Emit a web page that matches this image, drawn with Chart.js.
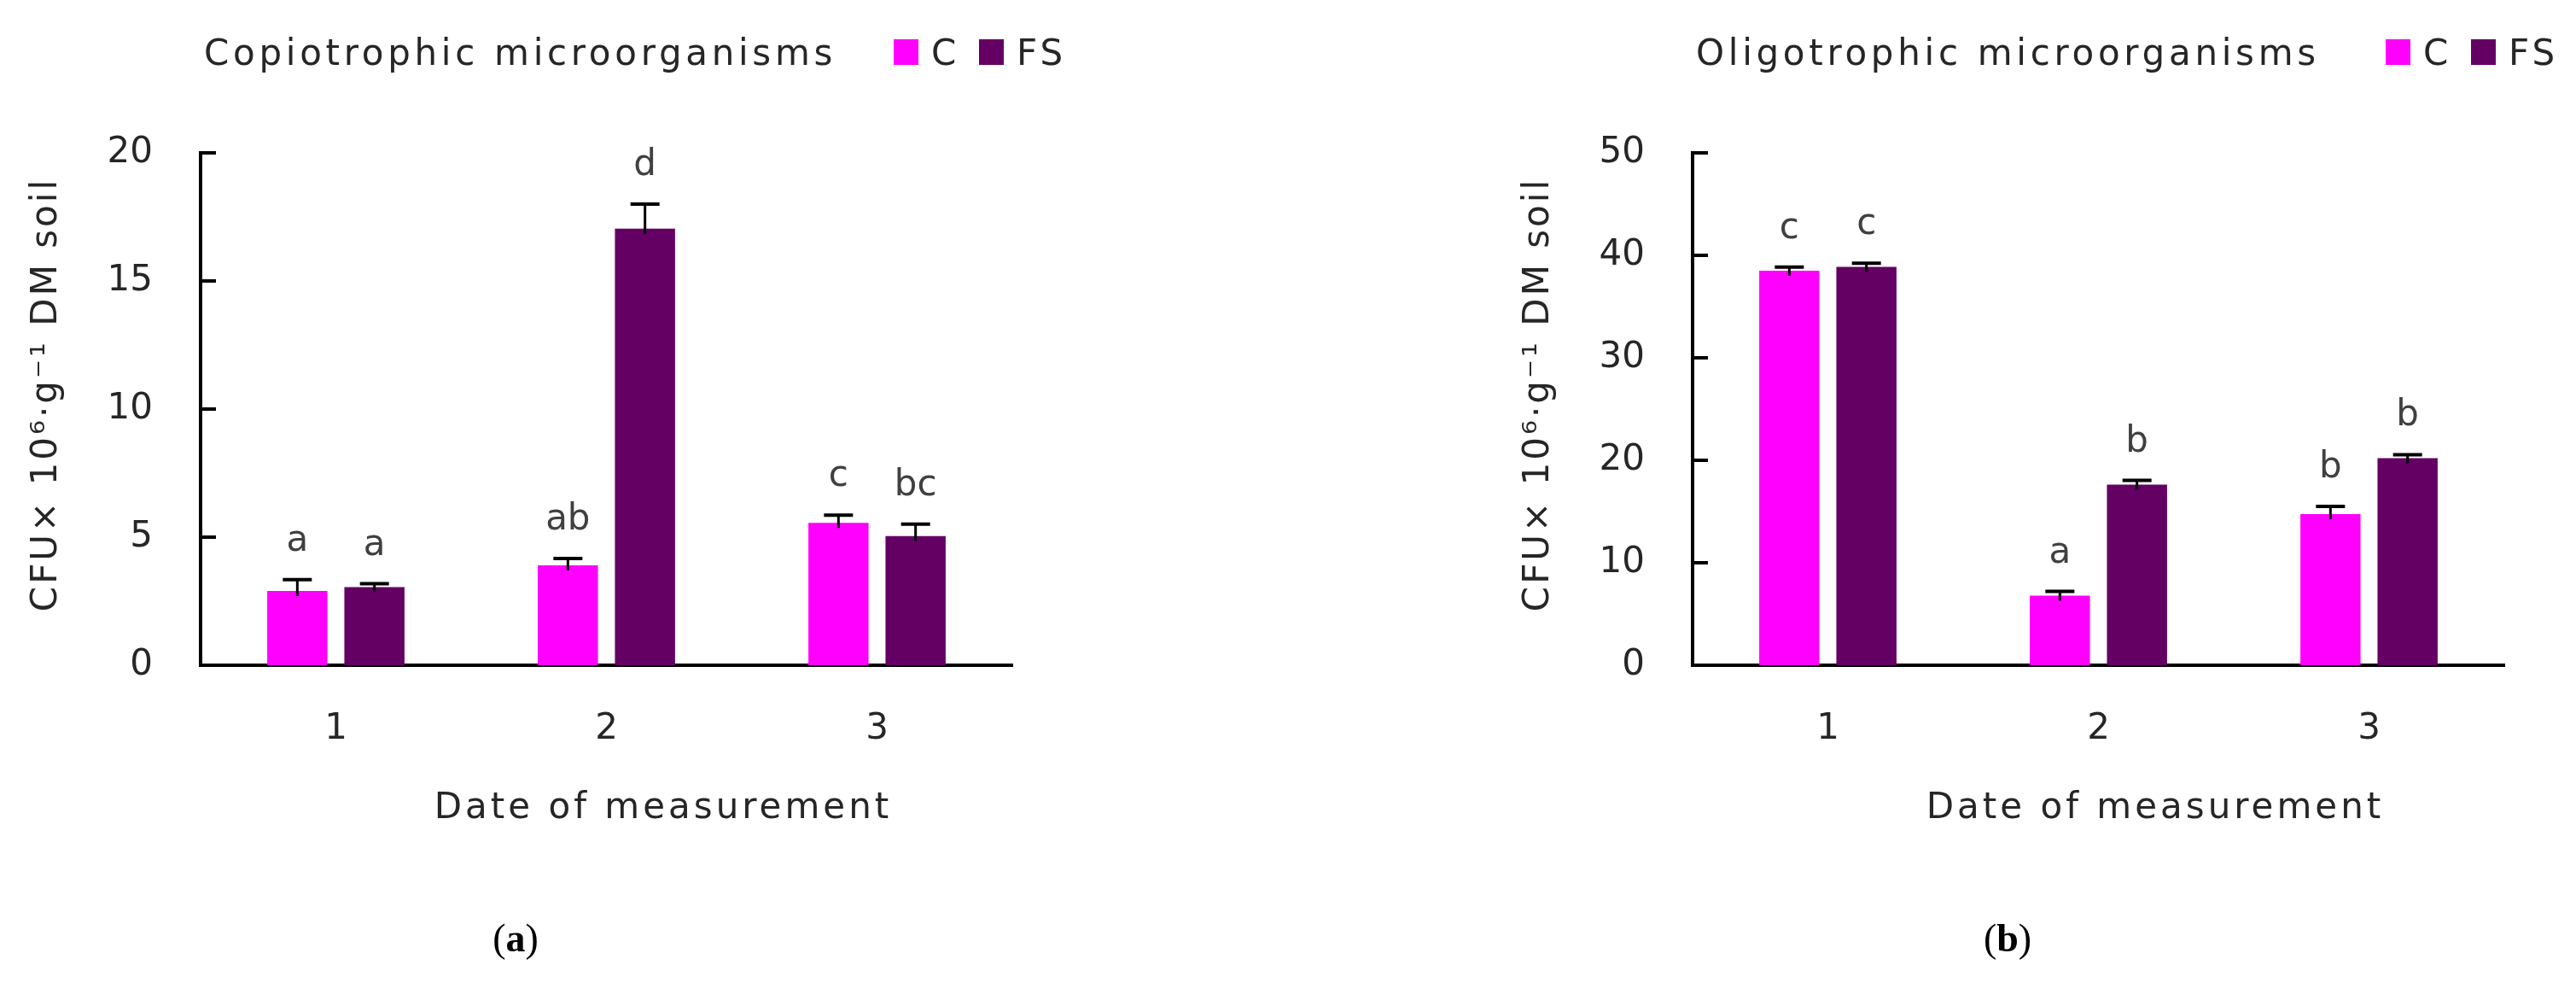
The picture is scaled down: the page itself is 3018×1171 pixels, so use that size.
<!DOCTYPE html>
<html>
<head>
<meta charset="utf-8">
<script src="https://cdn.jsdelivr.net/npm/chart.js@4.4.0/dist/chart.umd.min.js"></script>
<style>
  html, body { margin: 0; padding: 0; background: #fff; }
  #wrap { position: relative; width: 3018px; height: 1171px; }
  .panel { position: absolute; top: 0; width: 1509px; height: 1171px; }
</style>
</head>
<body>
<div id="wrap">
  <div class="panel" style="left:0"><canvas id="chartA" width="1509" height="1171"></canvas></div>
  <div class="panel" style="left:1509px"><canvas id="chartB" width="1509" height="1171"></canvas></div>
</div>
<script>
const dates = ['1', '2', '3'];
const seriesNames = ['C', 'FS'];
const seriesColors = ['#ff00ff', '#640064'];

// (a) copiotrophic
const copioC = [2.9, 3.9, 5.56];
const copioFS = [3.05, 17.04, 5.04];
const copioErrC = [0.44, 0.27, 0.3];
const copioErrFS = [0.13, 0.96, 0.47];
const copioLettersC = ['a', 'ab', 'c'];
const copioLettersFS = ['a', 'd', 'bc'];
const copioTicks = [0, 5, 10, 15, 20];

// (b) oligotrophic
const oligoC = [38.5, 6.8, 14.75];
const oligoFS = [38.87, 17.62, 20.2];
const oligoErrC = [0.35, 0.4, 0.76];
const oligoErrFS = [0.35, 0.42, 0.35];
const oligoLettersC = ['c', 'a', 'b'];
const oligoLettersFS = ['c', 'b', 'b'];
const oligoTicks = [0, 10, 20, 30, 40, 50];

const yTitle = 'CFU\u00d7 10\u2076\u00b7g\u207b\u00b9 DM soil';
const xTitle = 'Date of measurement';

const FONT = '"DejaVu Sans", Verdana, sans-serif';
const TEXT = '#262626';

const decor = {
  id: 'decor',
  afterDatasetsDraw(chart, args, opts) {
    const ctx = chart.ctx;
    const y = chart.scales.y;
    ctx.save();
    chart.data.datasets.forEach((ds, i) => {
      const meta = chart.getDatasetMeta(i);
      meta.data.forEach((bar, j) => {
        const top = y.getPixelForValue(ds.data[j] + ds.errors[j]);
        ctx.strokeStyle = '#000';
        ctx.lineWidth = 3;
        ctx.beginPath();
        ctx.moveTo(bar.x, bar.y + 6);
        ctx.lineTo(bar.x, top);
        ctx.stroke();
        ctx.lineWidth = 4;
        ctx.beginPath();
        ctx.moveTo(bar.x - 17, top);
        ctx.lineTo(bar.x + 17, top);
        ctx.stroke();

        ctx.fillStyle = '#404040';
        ctx.font = '42px ' + FONT;
        ctx.textAlign = 'center';
        ctx.textBaseline = 'alphabetic';
        ctx.fillText(ds.letters[j], bar.x, top - 34);
      });
    });
    ctx.restore();
  },
  afterDraw(chart, args, opts) {
    const ctx = chart.ctx;
    const area = chart.chartArea;
    const y = chart.scales.y;
    ctx.save();

    // inward tick marks
    ctx.strokeStyle = '#000';
    ctx.lineWidth = 4;
    y.ticks.forEach(t => {
      if (t.value === 0) return;
      const py = Math.round(y.getPixelForValue(t.value));
      ctx.beginPath();
      ctx.moveTo(area.left, py);
      ctx.lineTo(area.left + 18, py);
      ctx.stroke();
    });

    ctx.fillStyle = TEXT;
    ctx.font = '42px ' + FONT;
    ctx.letterSpacing = '4.7px';
    ctx.textBaseline = 'alphabetic';

    // panel title
    ctx.textAlign = 'left';
    ctx.fillText(opts.title, area.left + 4, 76);

    // legend
    ctx.letterSpacing = '4px';
    const lx = area.left + 812;
    chart.data.datasets.forEach((ds, i) => {
      const bx = lx + i * 100;
      ctx.fillStyle = ds.backgroundColor;
      ctx.fillRect(bx, 46, 29, 30);
      ctx.fillStyle = TEXT;
      ctx.fillText(ds.label, bx + 44, 76);
    });

    // x axis title
    ctx.textAlign = 'center';
    ctx.fillText(xTitle, area.left + 542, 958);

    // y axis title
    ctx.save();
    ctx.translate(area.left - 180, 462);
    ctx.rotate(-Math.PI / 2);
    ctx.letterSpacing = '3px';
    ctx.textBaseline = 'middle';
    ctx.fillText(yTitle, 0, 0);
    ctx.restore();

    // panel label "(a)" with bold letter
    ctx.letterSpacing = '0px';
    const normal = '46px "Liberation Serif", "Times New Roman", serif';
    const bold = 'bold 46px "Liberation Serif", "Times New Roman", serif';
    ctx.font = normal;
    const wp = ctx.measureText('(').width;
    const wp2 = ctx.measureText(')').width;
    ctx.font = bold;
    const wl = ctx.measureText(opts.panel).width;
    let px = area.left + 369 - (wp + wl + wp2) / 2;
    ctx.textAlign = 'left';
    ctx.fillStyle = '#000';
    ctx.font = normal;
    ctx.fillText('(', px, 1114);
    ctx.font = bold;
    ctx.fillText(opts.panel, px + wp, 1114);
    ctx.font = normal;
    ctx.fillText(')', px + wp + wl, 1114);

    ctx.restore();
  }
};

function makeChart(id, cfg) {
  return new Chart(document.getElementById(id), {
    type: 'bar',
    data: {
      labels: dates,
      datasets: [
        { label: seriesNames[0], data: cfg.c, errors: cfg.errC, letters: cfg.lettersC,
          backgroundColor: seriesColors[0], categoryPercentage: 0.57, barPercentage: 0.78 },
        { label: seriesNames[1], data: cfg.fs, errors: cfg.errFS, letters: cfg.lettersFS,
          backgroundColor: seriesColors[1], categoryPercentage: 0.57, barPercentage: 0.78 }
      ]
    },
    options: {
      responsive: false,
      animation: false,
      devicePixelRatio: 1,
      layout: { padding: { left: 0, top: 179, right: cfg.padRight, bottom: 0 } },
      plugins: {
        legend: { display: false },
        title: { display: false },
        tooltip: { enabled: false },
        decor: { title: cfg.title, panel: cfg.panel }
      },
      scales: {
        x: {
          z: 1,
          grid: { display: false },
          border: { display: true, color: '#000', width: 4 },
          ticks: { color: TEXT, font: { family: FONT, size: 42 }, padding: 42 },
          afterFit(s) { s.height = 392; }
        },
        y: {
          z: 1,
          min: 0,
          max: cfg.ticks[cfg.ticks.length - 1],
          afterBuildTicks(s) { s.ticks = cfg.ticks.map(v => ({ value: v })); },
          grid: { display: false },
          border: { display: true, color: '#000', width: 4 },
          ticks: { color: TEXT, font: { family: FONT, size: 42 }, padding: 48 },
          afterFit(s) { s.width = cfg.axisLeft; }
        }
      }
    },
    plugins: [decor]
  });
}

makeChart('chartA', {
  c: copioC, fs: copioFS, errC: copioErrC, errFS: copioErrFS,
  lettersC: copioLettersC, lettersFS: copioLettersFS, ticks: copioTicks,
  title: 'Copiotrophic microorganisms', panel: 'a', axisLeft: 235, padRight: 323
});

makeChart('chartB', {
  c: oligoC, fs: oligoFS, errC: oligoErrC, errFS: oligoErrFS,
  lettersC: oligoLettersC, lettersFS: oligoLettersFS, ticks: oligoTicks,
  title: 'Oligotrophic microorganisms', panel: 'b', axisLeft: 474, padRight: 84
});
</script>
</body>
</html>
